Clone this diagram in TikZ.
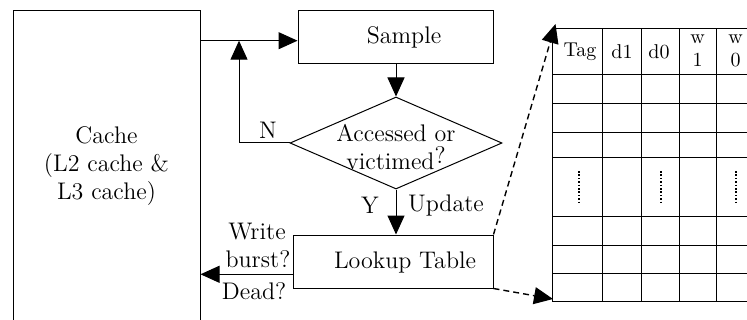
\documentclass[tikz,border=0pt]{standalone}
\usetikzlibrary{arrows.meta,shapes.geometric,calc}
\begin{document}
\begin{tikzpicture}[x=0.5pt,y=-0.5pt,
  box/.style={draw, line width=0.5pt, inner sep=0pt, rectangle},
  lbl/.style={font=\fontsize{12}{14}\selectfont, inner sep=0pt, align=center},
  cell/.style={font=\fontsize{10}{11.5}\selectfont, inner sep=0pt, align=center},
  arr/.style={line width=0.5pt, -{Triangle[length=9.5pt,width=8.5pt]}},
  darr/.style={arr, line width=0.7pt, dash pattern=on 3pt off 2pt},
  gridline/.style={line width=0.5pt},
  dotline/.style={line width=1.1pt, dash pattern=on 0.8pt off 0.9pt}]
\useasboundingbox (0,0) rectangle (747,320);
\clip (0,0) rectangle (747,320);

% main blocks
\node[box, minimum width=93.5pt, minimum height=155.25pt] (cache) at (106.5,165.75) {};
\node[lbl] (cachetxt) at (106.5,166) {Cache\\(L2 cache \&\\L3 cache)};

\node[box, minimum width=97.5pt, minimum height=26.5pt] (sample) at (395.5,37.5) {};
\node[lbl] (sampletxt) at (404,37) {Sample};

\node[draw, line width=0.5pt, diamond, inner sep=0pt,
      minimum width=106pt, minimum height=46pt] (dec) at (396,143) {};
\node[lbl] (dectxt) at (396,147) {Accessed or\\victimed\raisebox{0.6ex}{?}};

\node[box, minimum width=100pt, minimum height=26.5pt] (lookup) at (393,261.5) {};
\node[lbl] (lookuptxt) at (405,262) {Lookup Table};

% flow connectors
\coordinate (nj) at (239,40.7);
\draw[arr] ([yshift=-1.6pt]cache.north east |- sample.west) -- ([yshift=-1.6pt]sample.west);
\draw[arr] (dec.west) -| (nj);
\draw[arr] (sample.south -| dec.north) -- (dec.north);
\draw[arr] (dec.south) -- (dec.south |- lookup.north);
\draw[arr] ([yshift=-6.4pt]lookup.west) -- ([yshift=-6.4pt]cache.east |- lookup.west);

% connector labels
\node[lbl] (nlbl) at (268,130) {N};
\node[lbl] (ylbl) at (370,205) {Y};
\node[lbl] (updlbl) at (446,205) {Update};
\node[lbl] (wlbl) at (257,232) {Write};
\node[lbl] (blbl) at (258,259) {burst?};
\node[lbl] (dlbl) at (254,291) {Dead?};

% lookup table detail
\foreach \x in {552,602.3,641.7,679.3,716.7,760}
  \draw[gridline] (\x,28.3) -- (\x,301);
\foreach \y in {28.3,75,104,132.3,157.7,216.7,245,273.3,301}
  \draw[gridline] (552,\y) -- (760,\y);

\node[cell] (htag) at (580,51.7) {Tag};
\node[cell] (hdone) at (622,51.7) {d1};
\node[cell] (hdzero) at (659,51.7) {d0};
\node[cell] (hwone) at (697.5,51) {w\\1};
\node[cell] (hwzero) at (735.5,51) {w\\0};

\draw[dotline] (579,171) -- (579,202);
\draw[dotline] (661,171) -- (661,202);
\draw[dotline] (736,171) -- (736,202);

% zoom connectors
\coordinate (tin) at (555.5,24);
\coordinate (tout) at (553,299);
\draw[darr] (lookup.north east) -- (tin);
\draw[darr] (lookup.south east) -- (tout);
\end{tikzpicture}
\end{document}
